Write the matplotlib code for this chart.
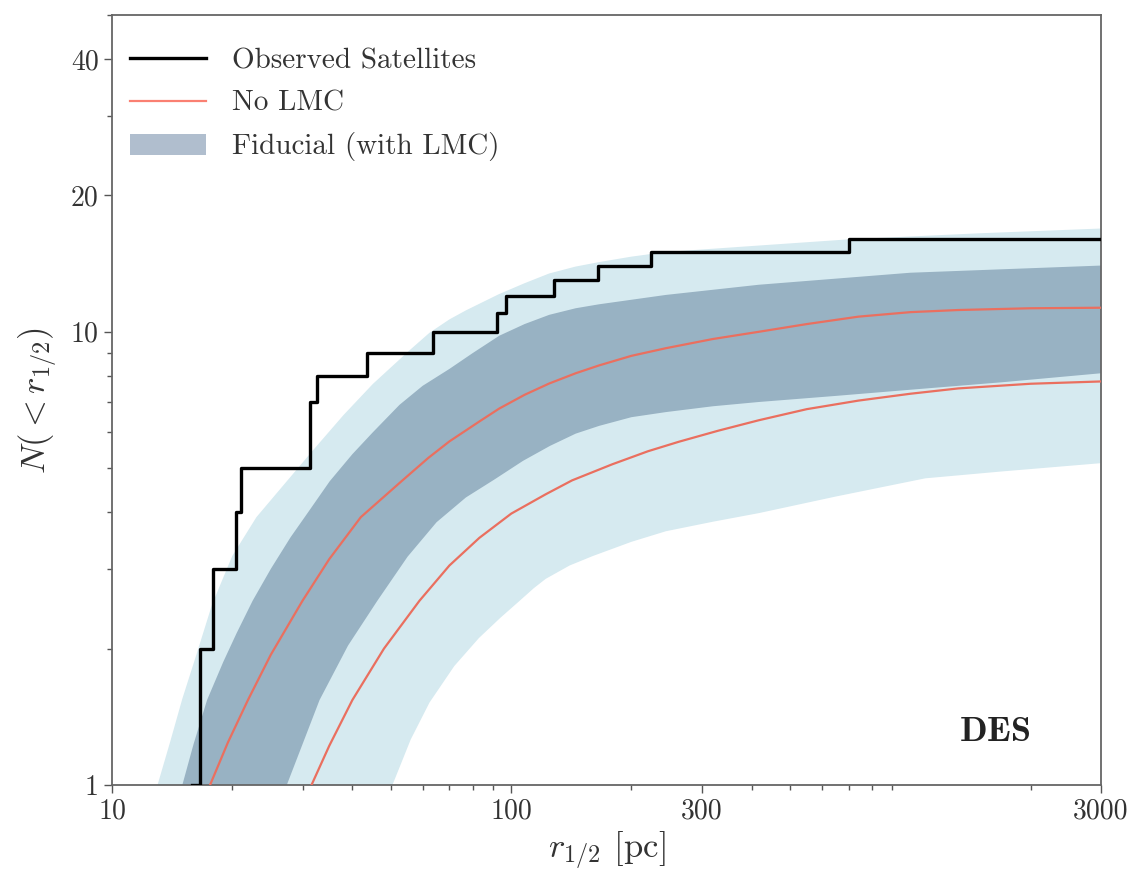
import matplotlib
matplotlib.use("Agg")
import matplotlib.pyplot as plt
from matplotlib.lines import Line2D
from matplotlib.patches import Patch
from matplotlib.ticker import NullFormatter

plt.rcParams['font.family'] = 'serif'
plt.rcParams['font.serif'] = ['cmr10']
plt.rcParams['mathtext.fontset'] = 'cm'
plt.rcParams['axes.unicode_minus'] = False

# observed satellites: half-light radii [pc] and cumulative count
r_obs = [15.9, 16.6, 17.9, 20.5, 21.1, 31.3, 31.3, 32.7, 43.6, 63.8,
         92.2, 97.1, 127.8, 164.8, 223.9, 702, 3000]
n_obs = [1, 2, 3, 4, 5, 6, 7, 8, 9, 10, 11, 12, 13, 14, 15, 16, 16]

# fiducial (with LMC) outer band
x_out_hi = [13.0, 14.0, 15.0, 16.3, 17.8, 20, 23, 27.4, 32, 38, 45, 55.6, 62.4, 70, 77, 93,
            108, 124.5, 145, 166, 200, 244, 320, 417, 704, 1500, 3000]
y_out_hi = [1.0, 1.25, 1.55, 1.95, 2.5, 3.2, 3.9, 4.68, 5.5, 6.55, 7.67, 9.1, 9.95, 10.65, 11.15, 12.1,
            12.8, 13.45, 13.93, 14.25, 14.65, 15.0, 15.25, 15.5, 16.0, 16.5, 16.9]
x_out_lo = [50.4, 56, 62.4, 72, 83, 94, 105, 114, 122, 140, 160, 200, 244, 320, 417, 650, 1090, 1700, 3000]
y_out_lo = [1.0, 1.26, 1.52, 1.83, 2.11, 2.34, 2.55, 2.72, 2.85, 3.05, 3.2, 3.44, 3.63, 3.81, 3.98, 4.33, 4.75, 4.92, 5.13]

# fiducial inner band
x_in_hi = [15.0, 16.0, 17.3, 19, 20.5, 22.5, 25, 28, 31, 35.1, 40, 45, 52.5, 60, 70, 80, 93.3,
           108, 124.5, 145, 166, 244, 417, 1000, 3000]
y_in_hi = [1.0, 1.23, 1.54, 1.87, 2.16, 2.55, 3.0, 3.52, 4.0, 4.68, 5.37, 6.0, 6.9, 7.6, 8.28, 8.97, 9.8,
           10.4, 10.9, 11.27, 11.5, 12.06, 12.7, 13.5, 14.0]
x_in_lo = [27.4, 30, 33.1, 39, 46.2, 55, 65, 77, 90.7, 107, 125, 145, 166, 200, 244, 320, 417,
           650, 1000, 1700, 3000]
y_in_lo = [1.0, 1.23, 1.54, 2.03, 2.55, 3.19, 3.8, 4.31, 4.72, 5.19, 5.6, 5.96, 6.2, 6.48, 6.65, 6.85, 7.0,
           7.22, 7.45, 7.74, 8.1]

# no LMC curves
x_nolmc_hi = [17.6, 19.5, 21.9, 25, 30.0, 35, 42, 53.1, 62, 70, 83.2, 93.3, 108, 124.5, 145, 166, 200,
              244, 320, 417, 550, 741, 1000, 1318, 2000, 3000]
y_nolmc_hi = [1.0, 1.24, 1.54, 1.94, 2.55, 3.15, 3.9, 4.68, 5.27, 5.73, 6.34, 6.77, 7.26, 7.69, 8.1, 8.43, 8.85,
              9.2, 9.64, 10.0, 10.4, 10.8, 11.05, 11.17, 11.27, 11.3]
x_nolmc_lo = [31.6, 35, 40.0, 48, 58.9, 70, 83.2, 100, 122, 142, 179, 220, 263, 330, 417, 550, 741,
              1000, 1318, 2000, 3000]
y_nolmc_lo = [1.0, 1.22, 1.54, 2.0, 2.55, 3.05, 3.51, 3.97, 4.38, 4.7, 5.1, 5.45, 5.72, 6.05, 6.38, 6.75, 7.05,
              7.3, 7.5, 7.68, 7.77]

light = '#d6eaf0'
dark = '#98b2c3'
red = '#ea6f5f'
fs = 21

fig = plt.figure(figsize=(11.34, 8.73), dpi=100)
ax = fig.add_axes([0.0988, 0.1008, 0.872, 0.882])
ax.set_xscale('log')
ax.set_yscale('log')

# bands as polygons (upper edge, then lower edge reversed)
ax.fill(x_out_hi + x_out_lo[::-1], y_out_hi + y_out_lo[::-1],
        color=light, lw=0, zorder=1)
ax.fill(x_in_hi + x_in_lo[::-1], y_in_hi + y_in_lo[::-1],
        color=dark, lw=0, zorder=2)
ax.plot(x_nolmc_hi, y_nolmc_hi, color=red, lw=1.6, zorder=3)
ax.plot(x_nolmc_lo, y_nolmc_lo, color=red, lw=1.6, zorder=3)
ax.step(r_obs, n_obs, where='post', color='black', lw=2.4, zorder=4)

ax.set_xlim(10, 3000)
ax.set_ylim(1, 50)
ax.set_xticks([10, 100, 300, 3000])
ax.set_xticklabels(['10', '100', '300', '3000'])
ax.set_yticks([1, 10, 20, 40])
ax.set_yticklabels(['1', '10', '20', '40'])
ax.xaxis.set_minor_formatter(NullFormatter())
ax.yaxis.set_minor_formatter(NullFormatter())
ax.tick_params(which='both', colors='#555555', labelcolor='#333333', width=1.0)
ax.tick_params(which='major', length=6, labelsize=20)
ax.tick_params(which='minor', length=3.5)
for sp in ax.spines.values():
    sp.set_color('#666666')
    sp.set_linewidth(1.3)

ax.set_xlabel(r'$r_{1/2}$ [pc]', fontsize=25, color='#333333', labelpad=4)
ax.set_ylabel(r'$N(<r_{1/2})$', fontsize=25, color='#333333', labelpad=8)

ax.text(0.893, 0.068, r'$\mathbf{DES}$', transform=ax.transAxes,
        ha='center', va='center', fontsize=26, color='#222222')

handles = [Line2D([], [], color='black', lw=2.4),
           Line2D([], [], color='salmon', lw=1.6),
           Patch(facecolor='#b0bece', edgecolor='none')]
labels = ['Observed Satellites', 'No LMC', 'Fiducial (with LMC)']
leg = ax.legend(handles, labels, loc='upper left', bbox_to_anchor=(0.0123, 0.965),
                frameon=False, fontsize=fs, borderpad=0.2, borderaxespad=0,
                handlelength=2.6, handleheight=0.75, handletextpad=0.89,
                labelspacing=0.53)
for t in leg.get_texts():
    t.set_color('#333333')

fig.savefig('out.png', dpi=100)
